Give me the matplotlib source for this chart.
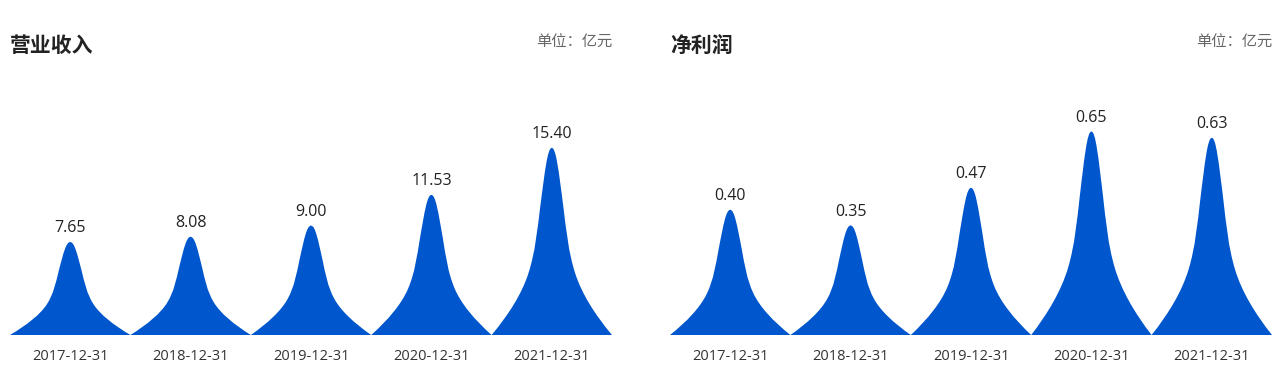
import matplotlib
matplotlib.use("Agg")
from matplotlib import pyplot as plt
from matplotlib.path import Path
from matplotlib.patches import PathPatch

plt.rcParams["font.family"] = ["Open Sans", "Noto Sans CJK SC", "DejaVu Sans"]

dates = ["2017-12-31", "2018-12-31", "2019-12-31", "2020-12-31", "2021-12-31"]
revenue = [7.65, 8.08, 9.00, 11.53, 15.40]
net_profit = [0.40, 0.35, 0.47, 0.65, 0.63]

BLUE = "#0056cc"
CJK = ["Noto Sans CJK SC", "DejaVu Sans"]

# left half of the peak outline: (dx, fraction of height), bezier control points
LEFT = [
    (-0.357, 0.11), (-0.249, 0.22), (-0.194, 0.33),
    (-0.136, 0.447), (-0.120, 0.563), (-0.097, 0.68),
    (-0.057, 0.88), (-0.035, 1.0), (0.0, 1.0),
]


def peak_path(cx, v):
    verts = [(cx - 0.5, 0.0)]
    codes = [Path.MOVETO]
    for (dx, h) in LEFT:
        verts.append((cx + dx, h * v))
        codes.append(Path.CURVE4)
    # mirror for the right side
    right = [(-dx, h) for (dx, h) in LEFT[::-1][1:]] + [(0.5, 0.0)]
    for (dx, h) in right:
        verts.append((cx + dx, h * v))
        codes.append(Path.CURVE4)
    verts.append((cx - 0.5, 0.0))
    codes.append(Path.CLOSEPOLY)
    return Path(verts, codes)


fig = plt.figure(figsize=(12.8, 3.9), dpi=100)

panels = [
    ("营业收入", revenue, 22.63, 10),
    ("净利润", net_profit, 0.8786, 670),
]

for (title, values, ymax, x0) in panels:
    ax = fig.add_axes([x0 / 1280, 55 / 390, 602 / 1280, 275 / 390])
    for i, v in enumerate(values):
        ax.add_patch(PathPatch(peak_path(i, v), facecolor=BLUE,
                               edgecolor="none"))
        ax.annotate(f"{v:.2f}", (i, v), xytext=(0, 4),
                    textcoords="offset points", ha="center", va="bottom",
                    fontsize=11.5, color="#222222")
    ax.set_xlim(-0.5, len(values) - 0.5)
    ax.set_ylim(0, ymax)
    ax.set_xticks(range(len(dates)))
    ax.set_xticklabels(dates, fontsize=10.5, color="#333333")
    ax.tick_params(axis="x", length=0, pad=10)
    ax.set_yticks([])
    for s in ax.spines.values():
        s.set_visible(False)

    fig.text(x0 / 1280, 1 - 45 / 390, title, fontsize=15, fontweight="bold",
             color="#222222", ha="left", va="center", family=CJK)
    fig.text((x0 + 602) / 1280, 1 - 42 / 390, "单位：亿元", fontsize=11,
             color="#666666", ha="right", va="center", family=CJK)

plt.savefig("out.png", dpi=100)
